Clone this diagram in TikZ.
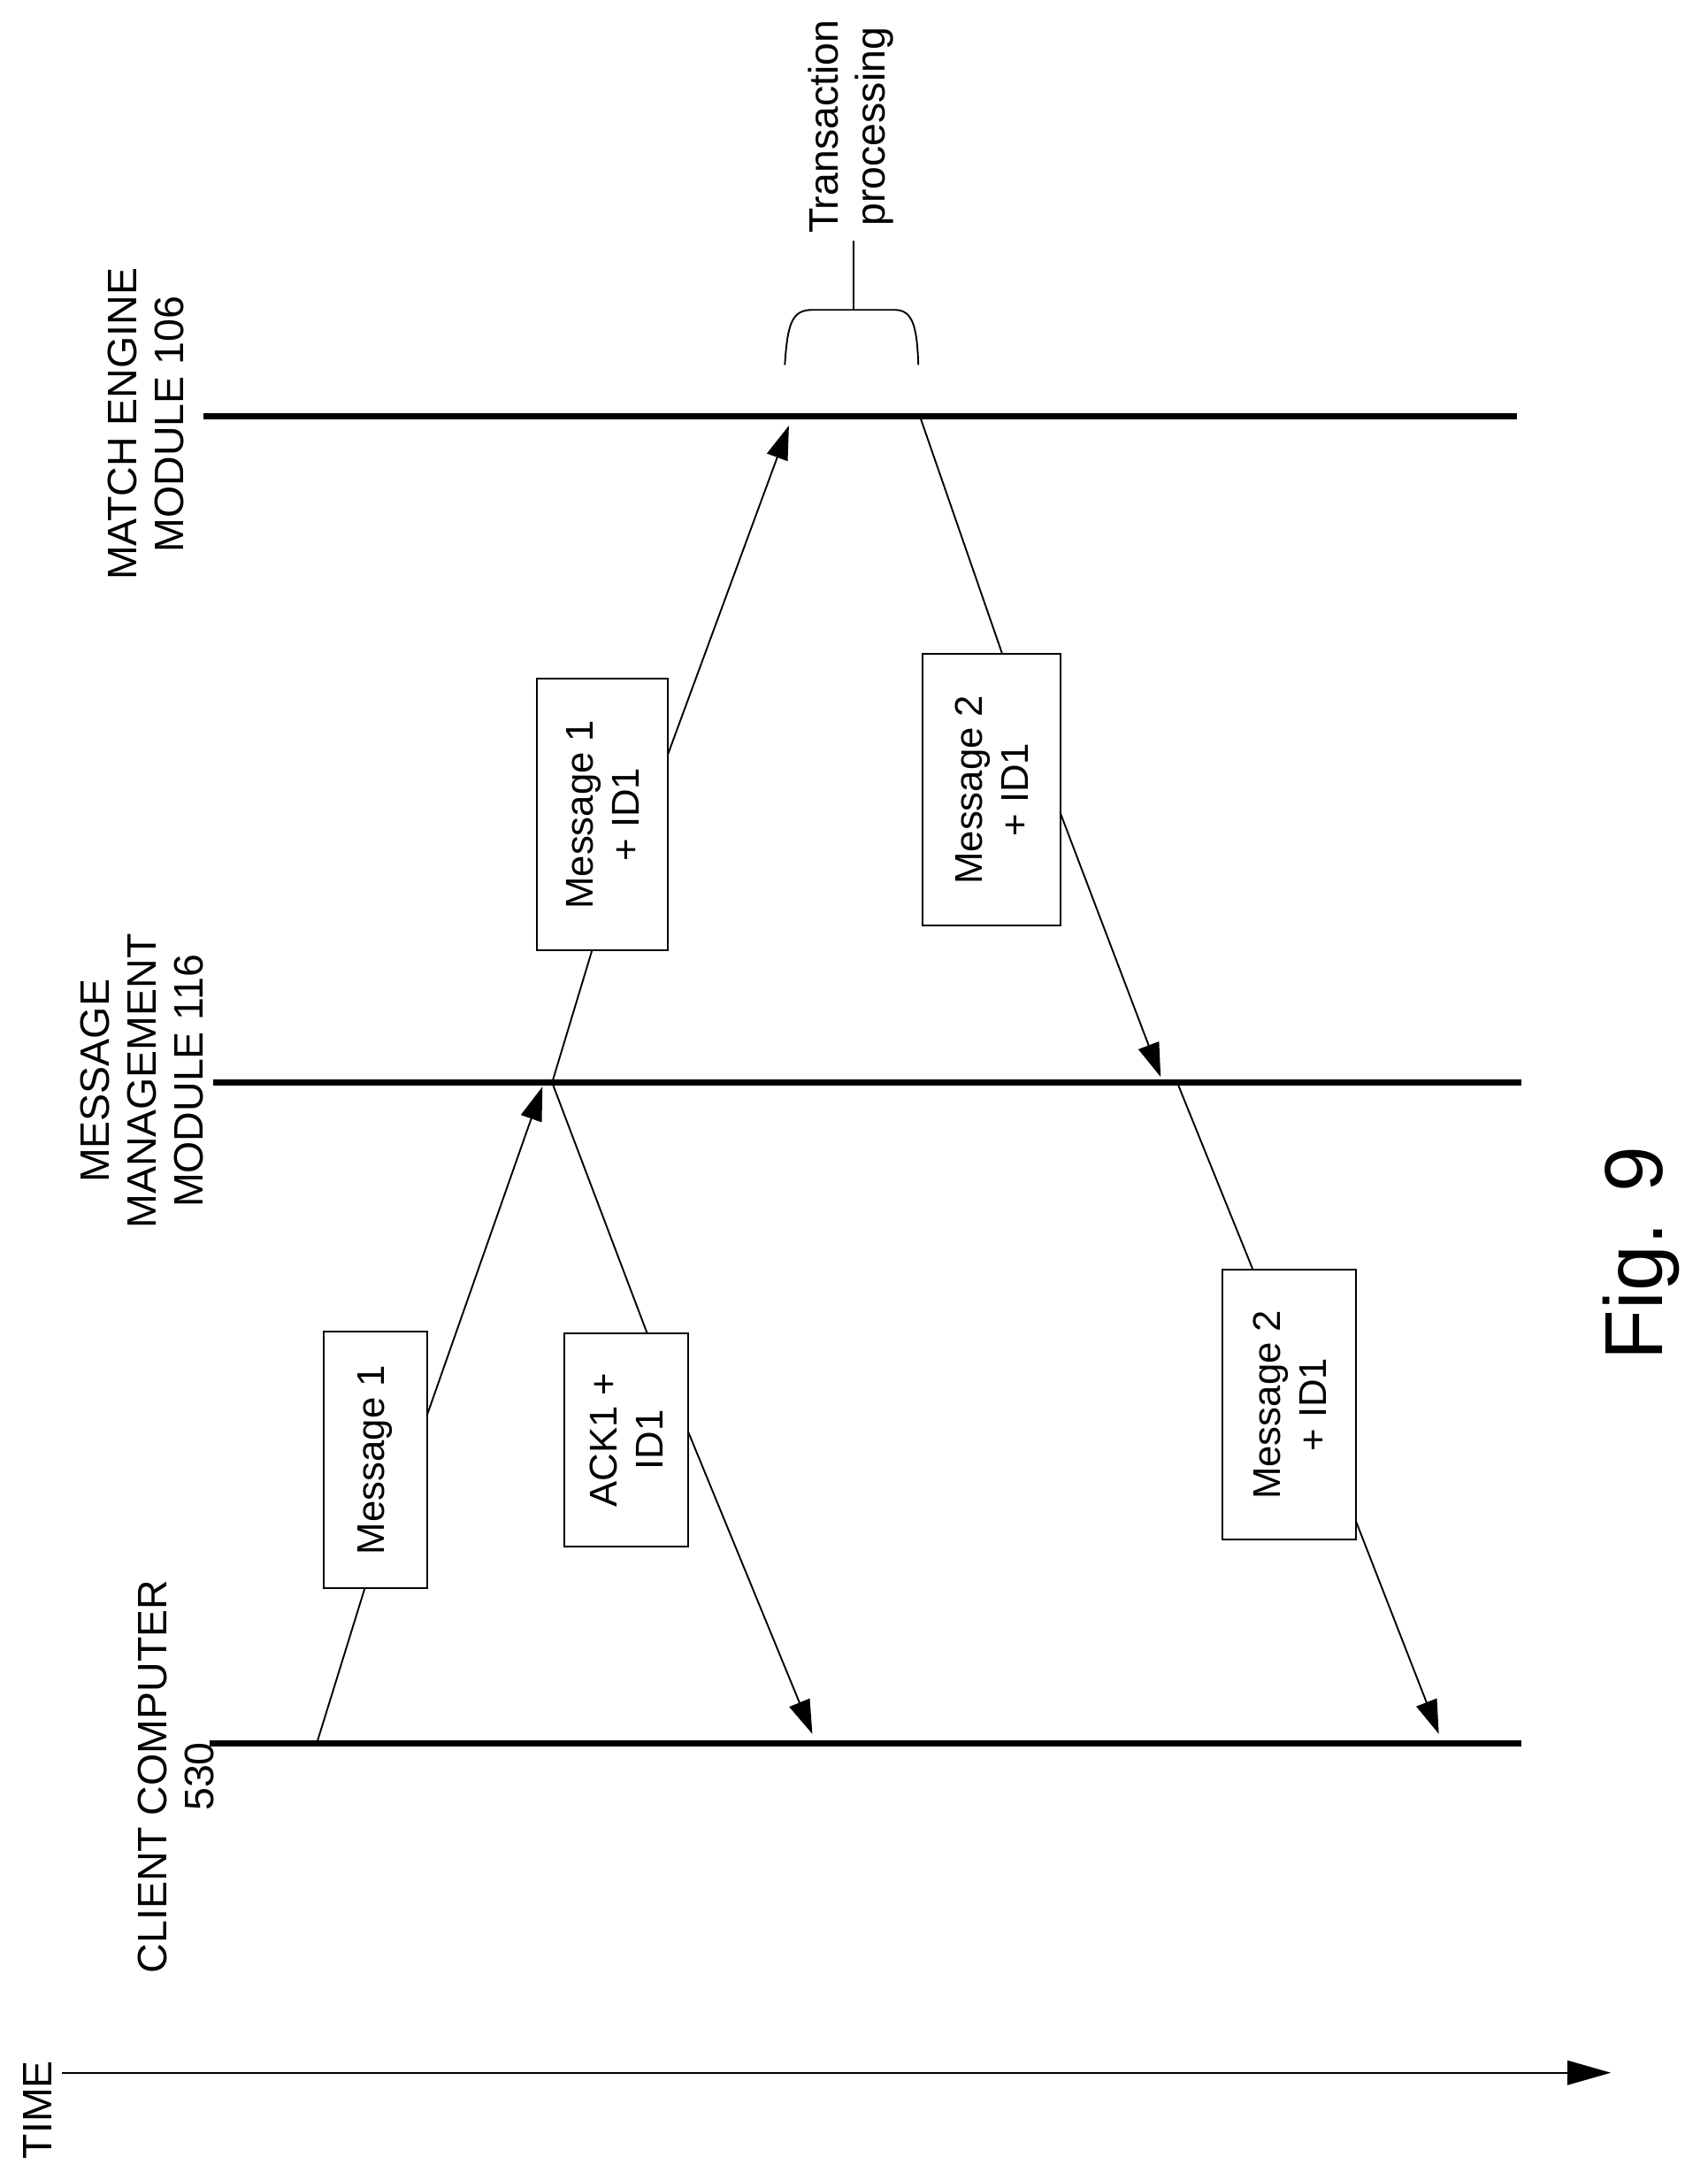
\documentclass[tikz,border=0pt]{standalone}
\usepackage{fontspec}
\setmainfont{Liberation Sans}
\usetikzlibrary{arrows.meta}
\begin{document}
\begin{tikzpicture}[x=0.02cm,y=-0.02cm,
  life/.style={line width=2.6pt},
  msg/.style={line width=0.7pt,-{Triangle[length=14pt,width=9pt]}},
  seg/.style={line width=0.7pt},
  box/.style={draw,line width=0.7pt,rotate=90,font=\fontsize{16}{19}\selectfont,align=center,inner sep=0pt},
  lab/.style={rotate=90,font=\fontsize{17}{19.5}\selectfont,align=center,inner sep=0pt}]
\useasboundingbox (0,0) rectangle (1240,1572);
% lifelines
\coordinate (me1) at (148,302); \coordinate (me2) at (1102,302);
\coordinate (mm1) at (155,786); \coordinate (mm2) at (1105,786);
\coordinate (cc1) at (152,1266); \coordinate (cc2) at (1105,1266);
\draw[life] (me1)--(me2); \draw[life] (mm1)--(mm2); \draw[life] (cc1)--(cc2);
% time
\coordinate (t1) at (45,1505); \coordinate (t2) at (1170,1505);
\draw[line width=0.9pt,-{Triangle[length=18pt,width=10pt]}] (t1)--(t2);
\node[lab] (time) at (27,1532) {TIME};
\node[lab] (cc) at (128,1290) {CLIENT COMPUTER\\530};
\node[lab] (mm) at (103,785) {MESSAGE\\MANAGEMENT\\MODULE 116};
\node[lab] (me) at (106,308) {MATCH ENGINE\\MODULE 106};
\node[lab] (tp) at (618,92) {Transaction\\processing};
\node[rotate=90,font=\fontsize{34}{40}\selectfont,inner sep=0pt] (fig) at (1192,910) {Fig. 9};
% brace
\coordinate (b0) at (620,175);
\draw[seg] (b0)--(620,225);
\draw[seg] (570,265) .. controls (572,235) and (575,225) .. (590,225) -- (650,225) .. controls (664,225) and (666,240) .. (667,265);
% boxes
\node[box,minimum width=186\pgflinewidth*0+3.72cm,minimum height=1.5cm] (b1) at (272.5,1060) {Message 1};
\node[box,minimum width=3.1cm,minimum height=1.8cm] (b2) at (455,1045.5) {ACK1 +\\ID1};
\node[box,minimum width=3.94cm,minimum height=1.9cm] (b3) at (437.5,591.5) {Message 1\\+ ID1};
\node[box,minimum width=3.94cm,minimum height=2.0cm] (b4) at (720,573.5) {Message 2\\+ ID1};
\node[box,minimum width=3.92cm,minimum height=1.94cm] (b5) at (936.5,1020) {Message 2\\+ ID1};
% connectors
\coordinate (p1) at (230,1266); \coordinate (p2) at (265,1153);
\coordinate (p3) at (310,1028); \coordinate (p4) at (394,789);
\draw[seg] (p1)--(p2); \draw[msg] (p3)--(p4);
\coordinate (q1) at (401,786); \coordinate (q2) at (470,968);
\coordinate (q3) at (500,1040); \coordinate (q4) at (590,1259);
\draw[seg] (q1)--(q2); \draw[msg] (q3)--(q4);
\coordinate (r2) at (430,690); \coordinate (r3) at (485,548); \coordinate (r4) at (573,309);
\draw[seg] (q1)--(r2); \draw[msg] (r3)--(r4);
\coordinate (s1) at (668,302); \coordinate (s2) at (728,475);
\coordinate (s3) at (770,590); \coordinate (s4) at (843,782);
\draw[seg] (s1)--(s2); \draw[msg] (s3)--(s4);
\coordinate (u1) at (855,786); \coordinate (u2) at (910,922);
\coordinate (u3) at (985,1105); \coordinate (u4) at (1045,1259);
\draw[seg] (u1)--(u2); \draw[msg] (u3)--(u4);
\end{tikzpicture}
\end{document}
